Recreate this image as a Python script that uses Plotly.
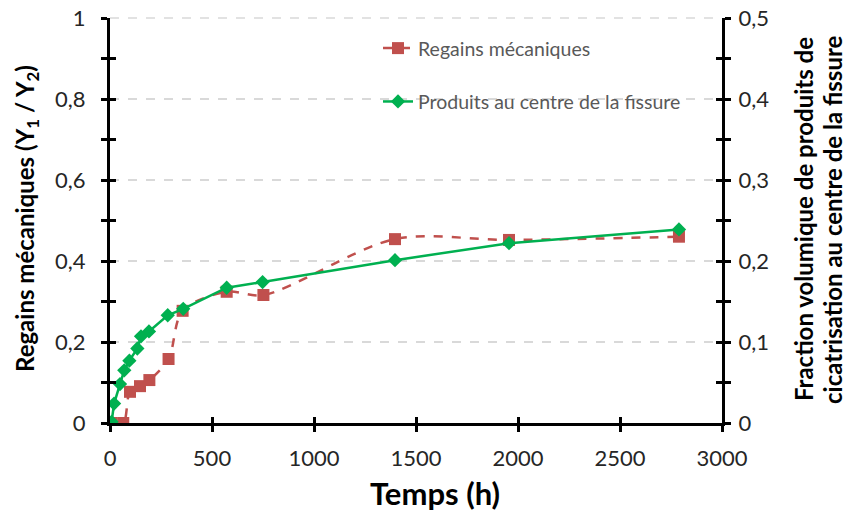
import plotly.graph_objects as go

# Regains mécaniques (left axis)
t_reg = [8, 65, 98, 147, 193, 287, 356, 572, 752, 1397, 1956, 2789]
y_reg = [0.0, 0.0, 0.077, 0.091, 0.106, 0.158, 0.277, 0.324, 0.316, 0.454, 0.452, 0.46]

# Produits au centre de la fissure (right axis)
t_prod = [8, 20, 49, 70, 95, 134, 152, 191, 283, 359, 572, 748, 1397, 1956, 2789]
y_prod = [0.0015, 0.024, 0.048, 0.065, 0.077, 0.092, 0.107, 0.113, 0.133, 0.141, 0.167, 0.174, 0.201, 0.222, 0.239]

x_ticks = [0, 500, 1000, 1500, 2000, 2500, 3000]

RED = "#C0504D"
GREEN = "#00B050"
GRID = "#D9D9D9"
FONT = "Lato"

fig = go.Figure()
fig.add_trace(go.Scatter(
    x=t_reg, y=y_reg, name="Regains mécaniques", mode="lines+markers",
    line=dict(color=RED, width=2.5, dash="dash", shape="spline", smoothing=0.9),
    marker=dict(symbol="square", size=12, color=RED),
    legendgroup="a", xaxis="x", yaxis="y"))
fig.add_trace(go.Scatter(
    x=t_prod, y=y_prod, name="Produits au centre de la fissure", mode="lines+markers",
    line=dict(color=GREEN, width=2.5),
    marker=dict(symbol="diamond", size=11, color=GREEN),
    legendgroup="b", xaxis="x", yaxis="y2"))

tickfont = dict(family=FONT, size=22, color="#262626")
common = dict(showline=True, linecolor="black", linewidth=3, tickcolor="black",
              tickwidth=2.5, ticklen=6, zeroline=False, automargin=False)
minor_out = dict(ticks="outside", ticklen=6, tickcolor="black", tickwidth=2.5)
minor_in = dict(ticks="inside", ticklen=6, tickcolor="black", tickwidth=2.5)

W, H = 848, 515
L, T = 110, 18
PW, PH = 612, 405
R, B = W - L - PW, H - T - PH


def px(xw):  # window pixel -> paper
    return (xw - L) / PW


def py(yw):
    return (T + PH - yw) / PH


title_font = dict(family=FONT, color="black")

fig.update_layout(
    width=W, height=H,
    margin=dict(l=L, r=R, t=T, b=B),
    paper_bgcolor="white", plot_bgcolor="white",
    separators=", ",
    showlegend=True,
    legend=dict(x=px(378), y=0.973, xanchor="left", yanchor="top",
                bgcolor="rgba(0,0,0,0)", font=dict(family=FONT, size=19.5, color="#595959"),
                traceorder="grouped", tracegroupgap=25),
    xaxis=dict(range=[0, 3000], tickvals=x_ticks, ticks="outside", showgrid=False,
               tickfont=tickfont, ticklabelstandoff=8, **common),
    yaxis=dict(range=[0, 1], dtick=0.2, ticks="outside", showgrid=True,
               gridcolor=GRID, gridwidth=1.5, griddash="dash",
               minor=dict(dtick=0.1, **minor_out),
               tickfont=tickfont, ticklabelstandoff=11, **common),
    yaxis2=dict(range=[0, 0.5], dtick=0.1, overlaying="y", side="right", ticks="outside",
                showgrid=False, minor=dict(dtick=0.05, **minor_out),
                tickfont=tickfont, ticklabelstandoff=3, **common),
    xaxis3=dict(range=[0, 3000], tickvals=x_ticks, ticks="inside", overlaying="x",
                showticklabels=False, showgrid=False, **common),
    yaxis3=dict(range=[0, 1], dtick=0.2, ticks="inside", overlaying="y", side="left",
                showticklabels=False, showgrid=False, minor=dict(dtick=0.1, **minor_in),
                **common),
    yaxis4=dict(range=[0, 0.5], dtick=0.1, ticks="inside", overlaying="y", side="right",
                showticklabels=False, showgrid=False, minor=dict(dtick=0.05, **minor_in),
                **common),
    shapes=[dict(type="line", xref="paper", yref="paper", x0=0, x1=1, y0=1, y1=1,
                 line=dict(color=GRID, width=1.5, dash="dash"), layer="below")],
    annotations=[
        dict(text="<b>Temps (h)</b>", x=px(435), y=py(493), xref="paper", yref="paper",
             showarrow=False, font=dict(size=31, **title_font), xanchor="center", yanchor="middle"),
        dict(text="<b>Regains mécaniques (Y<sub>1</sub> / Y<sub>2</sub>)</b>", x=px(26), y=py(219),
             xref="paper", yref="paper", showarrow=False, textangle=-90,
             font=dict(size=24, **title_font), xanchor="center", yanchor="middle"),
        dict(text="<b>Fraction volumique de produits de</b>", x=px(803), y=py(219),
             xref="paper", yref="paper", showarrow=False, textangle=-90,
             font=dict(size=24, **title_font), xanchor="center", yanchor="middle"),
        dict(text="<b>cicatrisation au centre de la fissure</b>", x=px(832), y=py(220),
             xref="paper", yref="paper", showarrow=False, textangle=-90,
             font=dict(size=24, **title_font), xanchor="center", yanchor="middle"),
    ],
)
# invisible helper traces to activate the crossing-tick axes
fig.add_trace(go.Scatter(x=[None], y=[None], xaxis="x3", yaxis="y3", showlegend=False, hoverinfo="skip"))
fig.add_trace(go.Scatter(x=[None], y=[None], xaxis="x3", yaxis="y4", showlegend=False, hoverinfo="skip"))

fig.write_html("out.html", config={"displayModeBar": False},
               post_script="document.body.style.margin='0';document.body.style.overflow='hidden';")
